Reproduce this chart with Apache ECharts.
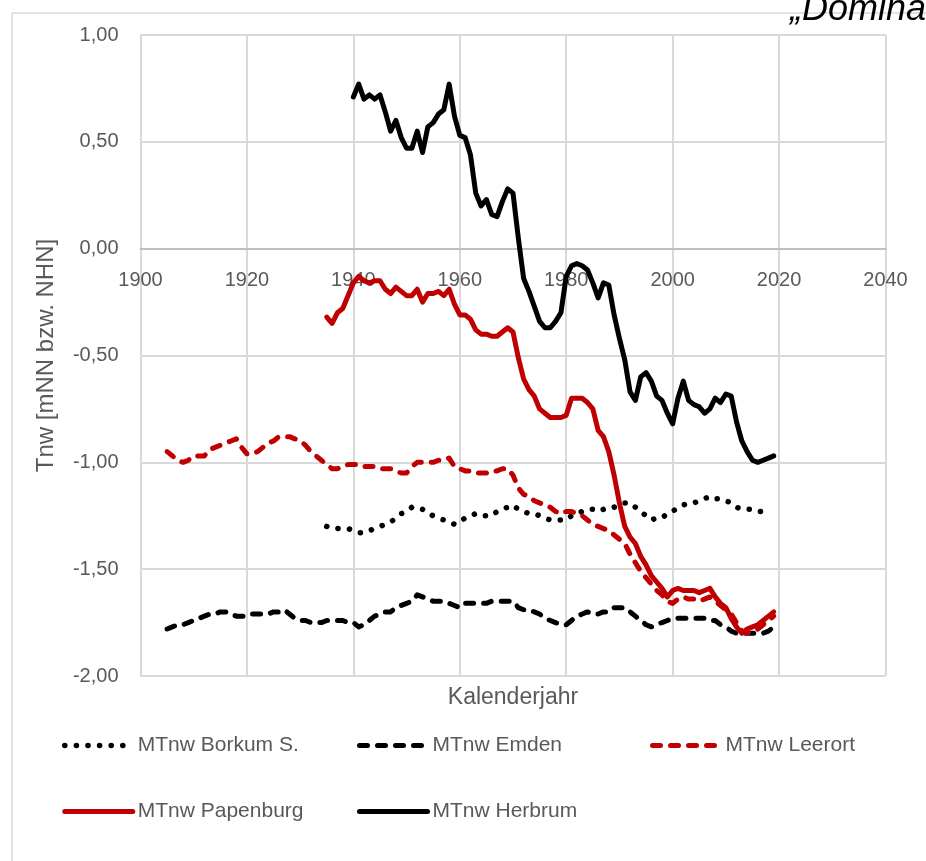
<!DOCTYPE html>
<html>
<head>
<meta charset="utf-8">
<script src="https://cdn.jsdelivr.net/npm/echarts@6/dist/echarts.min.js"></script>
<style>
  html, body { margin: 0; padding: 0; background: #ffffff; }
  #chart { width: 926px; height: 861px; }
</style>
</head>
<body>
<div id="chart"></div>
<script>
// Mean low water (MTnw) per gauge, annual values in m relative to NN / NHN
const xTicks = { min: 1900, max: 2040, step: 20 };
const yTicks = { min: -2, max: 1, step: 0.5 };

const borkumStart = 1935;
const borkum = [
  -1.30, -1.31, -1.31, -1.31, -1.31, -1.32, -1.33, -1.33, -1.32, -1.31,
  -1.30, -1.29, -1.28, -1.26, -1.24, -1.23, -1.21, -1.21, -1.22, -1.24,
  -1.25, -1.26, -1.27, -1.28, -1.29, -1.28, -1.26, -1.25, -1.24, -1.25,
  -1.25, -1.25, -1.23, -1.22, -1.21, -1.20, -1.22, -1.23, -1.24, -1.24,
  -1.25, -1.26, -1.27, -1.27, -1.27, -1.27, -1.25, -1.24, -1.23, -1.22,
  -1.22, -1.23, -1.22, -1.21, -1.21, -1.20, -1.19, -1.19, -1.21, -1.23,
  -1.25, -1.27, -1.26, -1.26, -1.24, -1.23, -1.21, -1.20, -1.19, -1.19,
  -1.18, -1.17, -1.16, -1.17, -1.17, -1.18, -1.19, -1.21, -1.22, -1.22,
  -1.22, -1.23, -1.23, -1.23
];

const emdenStart = 1905;
const emden = [
  -1.78, -1.77, -1.76, -1.76, -1.75, -1.74, -1.73, -1.72, -1.71, -1.71,
  -1.70, -1.70, -1.71, -1.72, -1.72, -1.72, -1.71, -1.71, -1.71, -1.71,
  -1.70, -1.70, -1.69, -1.71, -1.73, -1.74, -1.74, -1.75, -1.75, -1.75,
  -1.74, -1.74, -1.74, -1.74, -1.75, -1.75, -1.77, -1.76, -1.74, -1.72,
  -1.71, -1.70, -1.70, -1.68, -1.67, -1.66, -1.65, -1.62, -1.63, -1.64,
  -1.65, -1.65, -1.65, -1.66, -1.67, -1.68, -1.66, -1.66, -1.66, -1.66,
  -1.66, -1.65, -1.65, -1.65, -1.65, -1.65, -1.68, -1.69, -1.69, -1.70,
  -1.71, -1.73, -1.74, -1.75, -1.76, -1.76, -1.74, -1.72, -1.71, -1.70,
  -1.71, -1.71, -1.70, -1.70, -1.68, -1.68, -1.68, -1.70, -1.72, -1.74,
  -1.76, -1.77, -1.76, -1.75, -1.74, -1.73, -1.73, -1.73, -1.73, -1.73,
  -1.73, -1.73, -1.74, -1.74, -1.76, -1.77, -1.79, -1.80, -1.80, -1.80,
  -1.80, -1.80, -1.80, -1.79, -1.77
];

const leerortStart = 1905;
const leerort = [
  -0.95, -0.97, -0.99, -1.00, -0.99, -0.97, -0.97, -0.97, -0.94, -0.93,
  -0.92, -0.91, -0.90, -0.89, -0.93, -0.96, -0.96, -0.95, -0.93, -0.91,
  -0.90, -0.88, -0.88, -0.88, -0.89, -0.90, -0.92, -0.95, -0.97, -0.99,
  -1.01, -1.03, -1.03, -1.02, -1.01, -1.01, -1.01, -1.02, -1.02, -1.02,
  -1.03, -1.03, -1.03, -1.04, -1.05, -1.05, -1.02, -1.00, -1.00, -1.00,
  -1.00, -0.99, -0.99, -0.98, -1.02, -1.03, -1.04, -1.04, -1.05, -1.05,
  -1.05, -1.04, -1.04, -1.03, -1.03, -1.06, -1.12, -1.15, -1.16, -1.18,
  -1.19, -1.20, -1.21, -1.23, -1.24, -1.23, -1.23, -1.24, -1.25, -1.27,
  -1.29, -1.30, -1.31, -1.32, -1.34, -1.36, -1.38, -1.43, -1.47, -1.51,
  -1.54, -1.57, -1.60, -1.62, -1.65, -1.66, -1.64, -1.63, -1.64, -1.64,
  -1.65, -1.64, -1.63, -1.65, -1.67, -1.69, -1.71, -1.75, -1.79, -1.80,
  -1.79, -1.78, -1.76, -1.74, -1.72
];

const papenburgStart = 1935;
const papenburg = [
  -0.32, -0.35, -0.30, -0.28, -0.22, -0.16, -0.13, -0.15, -0.16, -0.15,
  -0.15, -0.19, -0.21, -0.18, -0.20, -0.22, -0.22, -0.19, -0.25, -0.21,
  -0.21, -0.20, -0.22, -0.19, -0.26, -0.31, -0.31, -0.33, -0.38, -0.40,
  -0.40, -0.41, -0.41, -0.39, -0.37, -0.39, -0.51, -0.61, -0.66, -0.69,
  -0.75, -0.77, -0.79, -0.79, -0.79, -0.78, -0.70, -0.70, -0.70, -0.72,
  -0.75, -0.85, -0.88, -0.95, -1.06, -1.19, -1.30, -1.35, -1.38, -1.44,
  -1.48, -1.53, -1.56, -1.59, -1.63, -1.60, -1.59, -1.60, -1.60, -1.60,
  -1.61, -1.60, -1.59, -1.63, -1.66, -1.68, -1.73, -1.77, -1.80, -1.78,
  -1.77, -1.76, -1.74, -1.72, -1.70
];

const herbrumStart = 1940;
const herbrum = [
   0.71,  0.77,  0.70,  0.72,  0.70,  0.72,  0.64,  0.55,  0.60,  0.52,
   0.47,  0.47,  0.55,  0.45,  0.57,  0.59,  0.63,  0.65,  0.77,  0.62,
   0.53,  0.52,  0.44,  0.26,  0.20,  0.23,  0.16,  0.15,  0.22,  0.28,
   0.26,  0.05, -0.14, -0.20, -0.27, -0.34, -0.37, -0.37, -0.34, -0.30,
  -0.13, -0.08, -0.07, -0.08, -0.10, -0.16, -0.23, -0.16, -0.17, -0.31,
  -0.42, -0.52, -0.67, -0.71, -0.60, -0.58, -0.62, -0.69, -0.71, -0.77,
  -0.82, -0.70, -0.62, -0.71, -0.73, -0.74, -0.77, -0.75, -0.70, -0.72,
  -0.68, -0.69, -0.81, -0.90, -0.95, -0.99, -1.00, -0.99, -0.98, -0.97
];

const seriesNames = ['MTnw Borkum S.', 'MTnw Emden', 'MTnw Leerort', 'MTnw Papenburg', 'MTnw Herbrum'];

const RED = '#c00000';
const BLACK = '#000000';
const TEXT = '#595959';
const GRID = '#d9d9d9';
const FONT = '"Liberation Sans", Arial, sans-serif';
const LINE_W = 5;
const DOT_W = 5.5;
const DOTS = [0.1, 11.5];
const DASHES = [8, 10];

// plot box (px)
const PLOT = { left: 140.5, right: 40.5, top: 35, bottom: 185 };
const plotHeight = 861 - PLOT.top - PLOT.bottom;
// shift the year axis up so it crosses the value axis at 0
const zeroShift = plotHeight * (0 - yTicks.min) / (yTicks.max - yTicks.min);

function pairs(start, values) {
  return values.map((v, i) => [start + i, v]);
}

function lineSeries(name, start, values, color, type, width) {
  return {
    name: name,
    type: 'line',
    data: pairs(start, values),
    symbol: 'none',
    showSymbol: false,
    smooth: false,
    lineStyle: { color: color, width: width, type: type, cap: 'round', join: 'round' },
    itemStyle: { color: color },
    emphasis: { disabled: true },
    animation: false
  };
}

const chart = echarts.init(document.getElementById('chart'), null, { renderer: 'canvas' });

const legendBase = {
  orient: 'vertical',
  top: 735,
  padding: 0,
  itemWidth: 68,
  itemHeight: 20,
  itemGap: 45,
  itemStyle: { opacity: 0, borderWidth: 0 },
  lineStyle: { width: 'inherit' },
  textStyle: { color: TEXT, fontSize: 21, fontFamily: FONT },
  selectedMode: false
};

chart.setOption({
  backgroundColor: '#ffffff',
  animation: false,
  textStyle: { fontFamily: FONT },
  grid: { left: PLOT.left, right: PLOT.right, top: PLOT.top, bottom: PLOT.bottom, containLabel: false },
  xAxis: {
    type: 'value',
    position: 'bottom',
    offset: -zeroShift,
    min: xTicks.min,
    max: xTicks.max,
    interval: xTicks.step,
    axisLine: { show: true, onZero: false, lineStyle: { color: '#bfbfbf', width: 2 } },
    axisTick: { show: false },
    axisLabel: {
      color: TEXT, fontSize: 20, fontFamily: FONT, margin: 22,
      showMinLabel: true, showMaxLabel: true,
      formatter: v => String(v)
    },
    splitLine: { show: true, lineStyle: { color: GRID, width: 2 } }
  },
  yAxis: {
    type: 'value',
    min: yTicks.min,
    max: yTicks.max,
    interval: yTicks.step,
    name: 'Tnw [mNN bzw. NHN]',
    nameLocation: 'middle',
    nameGap: 82,
    nameRotate: 90,
    nameTextStyle: { color: TEXT, fontSize: 24, fontFamily: FONT },
    axisLine: { show: false },
    axisTick: { show: false },
    axisLabel: {
      color: TEXT, fontSize: 20, fontFamily: FONT, margin: 22,
      formatter: v => v.toFixed(2).replace('.', ',')
    },
    splitLine: { show: true, lineStyle: { color: GRID, width: 2 } }
  },
  legend: [
    Object.assign({}, legendBase, { left: 62, data: [seriesNames[0], seriesNames[3]] }),
    Object.assign({}, legendBase, { left: 357, data: [seriesNames[1], seriesNames[4]] }),
    Object.assign({}, legendBase, { left: 650, data: [seriesNames[2]] })
  ],
  graphic: [
    { type: 'line', silent: true, shape: { x1: 12, y1: 13, x2: 926, y2: 13 }, style: { stroke: GRID, lineWidth: 1.5 } },
    { type: 'line', silent: true, shape: { x1: 12, y1: 13, x2: 12, y2: 861 }, style: { stroke: GRID, lineWidth: 1.5 } },
    {
      type: 'text', silent: true, x: 790, y: 28,
      style: { text: '\u201EDominanz', fill: '#000000', font: 'italic 36px ' + FONT, textAlign: 'left', textVerticalAlign: 'bottom' }
    },
    {
      type: 'text', silent: true, x: 513, y: 698,
      style: { text: 'Kalenderjahr', fill: TEXT, font: '23px ' + FONT, textAlign: 'center', textVerticalAlign: 'middle' }
    }
  ],
  series: [
    lineSeries(seriesNames[0], borkumStart, borkum, BLACK, DOTS, DOT_W),
    lineSeries(seriesNames[1], emdenStart, emden, BLACK, DASHES, LINE_W),
    lineSeries(seriesNames[2], leerortStart, leerort, RED, DASHES, LINE_W),
    lineSeries(seriesNames[3], papenburgStart, papenburg, RED, 'solid', LINE_W),
    lineSeries(seriesNames[4], herbrumStart, herbrum, BLACK, 'solid', LINE_W)
  ]
});
</script>
</body>
</html>
